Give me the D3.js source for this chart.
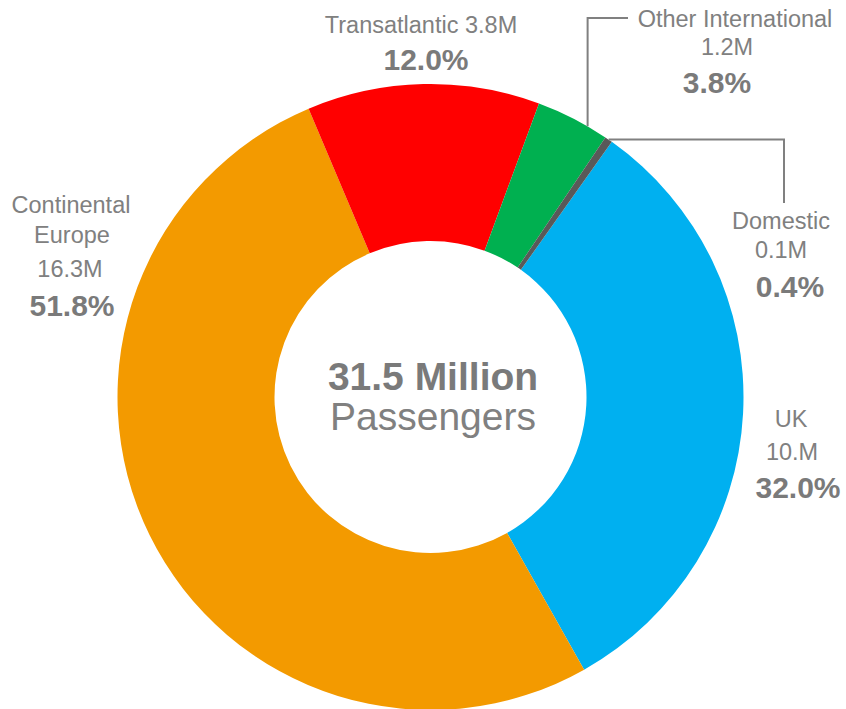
<!DOCTYPE html>
<html>
<head>
<meta charset="utf-8">
<script src="https://cdn.jsdelivr.net/npm/d3@7"></script>
<style>
  body { margin: 0; background: #fff; }
  text { font-family: "Liberation Sans", Arial, sans-serif; }
</style>
</head>
<body>
<div id="chart"></div>
<script>
var categories = ["UK", "Continental Europe", "Transatlantic", "Other International", "Domestic"];
var millions = [10.0, 16.3, 3.8, 1.2, 0.1];
var millionLabels = ["10.M", "16.3M", "3.8M", "1.2M", "0.1M"];
var shares = [32.0, 51.8, 12.0, 3.8, 0.4];
var colors = ["#00b0f0", "#f39a00", "#ff0000", "#00b050", "#595959"];
var totalLabel = "31.5 Million";
var totalSub = "Passengers";

var width = 846, height = 709;
var cx = 430.5, cy = 397, outerR = 313, innerR = 156;
var startDeg = 35.4;
var textGray = "#808080", boldGray = "#7a7a7a";

var svg = d3.select("#chart").append("svg")
  .attr("width", width)
  .attr("height", height);

var g = svg.append("g").attr("transform", "translate(" + cx + "," + cy + ")");

var pie = d3.pie()
  .sort(null)
  .value(function(d) { return d.share; })
  .startAngle(startDeg * Math.PI / 180)
  .endAngle(startDeg * Math.PI / 180 + 2 * Math.PI);

var arc = d3.arc().innerRadius(innerR).outerRadius(outerR);

var data = categories.map(function(c, i) {
  return {name: c, value: millions[i], vlabel: millionLabels[i], share: shares[i], color: colors[i]};
});
var arcs = pie(data);

g.selectAll("path.slice")
  .data(arcs)
  .enter().append("path")
    .attr("class", "slice")
    .attr("d", arc)
    .attr("fill", function(d) { return d.data.color; });

// point on outer edge at a fraction through a slice
function edgePoint(a, f) {
  var ang = a.startAngle + (a.endAngle - a.startAngle) * f;
  return [cx + outerR * Math.sin(ang), cy - outerR * Math.cos(ang)];
}

// leader lines
var pOther = edgePoint(arcs[3], 0.72);
var pDom = edgePoint(arcs[4], 0.5);
svg.append("path")
  .attr("d", "M" + pOther[0] + "," + pOther[1] + "V18H628")
  .attr("fill", "none").attr("stroke", "#808080").attr("stroke-width", 2);
svg.append("path")
  .attr("d", "M" + pDom[0] + "," + pDom[1] + "H784V203")
  .attr("fill", "none").attr("stroke", "#808080").attr("stroke-width", 2);

// label layout: lines of [text, x, y, bold]
function fmtPct(v) { return d3.format(".1f")(v) + "%"; }
var layout = [
  [[categories[0], 791, 427], [millionLabels[0], 792, 460], [fmtPct(shares[0]), 798, 498, true]],
  [["Continental", 71, 213], ["Europe", 72, 243], [millionLabels[1], 70, 277], [fmtPct(shares[1]), 72, 316, true]],
  [[categories[2] + " " + millionLabels[2], 421, 33], [fmtPct(shares[2]), 426, 70, true]],
  [[categories[3], 735, 27], [millionLabels[3], 727, 55], [fmtPct(shares[3]), 717, 93, true]],
  [[categories[4], 781, 229], [millionLabels[4], 781, 258], [fmtPct(shares[4]), 790, 297, true]]
];

layout.forEach(function(lines) {
  lines.forEach(function(l) {
    svg.append("text")
      .attr("x", l[1])
      .attr("y", l[2])
      .attr("text-anchor", "middle")
      .attr("font-size", l[3] ? 30 : 23.5)
      .attr("font-weight", l[3] ? "bold" : "normal")
      .attr("fill", l[3] ? boldGray : textGray)
      .text(l[0]);
  });
});

// centre total
svg.append("text")
  .attr("x", 433).attr("y", 390)
  .attr("text-anchor", "middle")
  .attr("font-size", 39).attr("font-weight", "bold")
  .attr("fill", boldGray)
  .text(totalLabel);
svg.append("text")
  .attr("x", 433).attr("y", 430)
  .attr("text-anchor", "middle")
  .attr("font-size", 39)
  .attr("fill", textGray)
  .text(totalSub);
</script>
</body>
</html>
